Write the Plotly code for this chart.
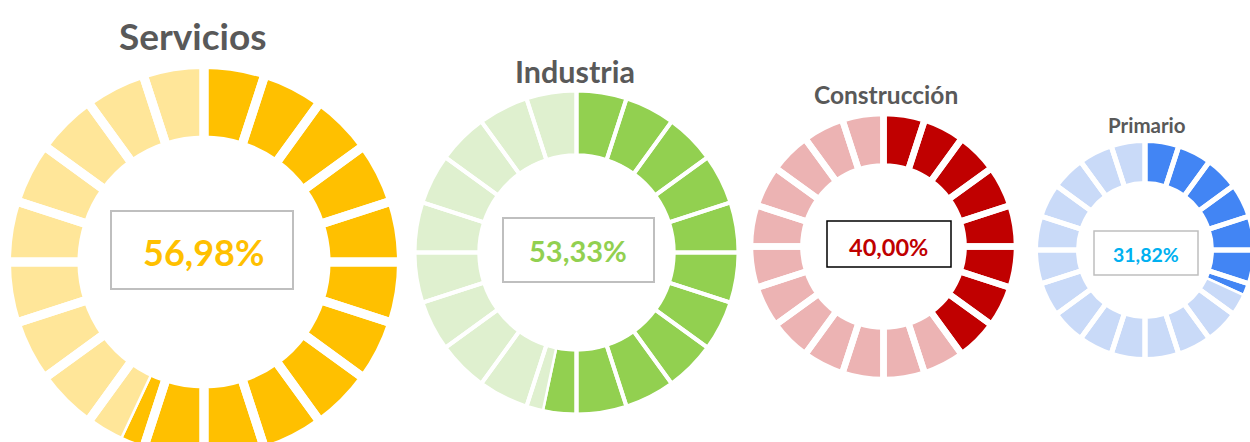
import plotly.graph_objects as go

# ---------------- data ----------------
sectors = ["Servicios", "Industria", "Construcción", "Primario"]
percentages = [56.98, 53.33, 40.00, 31.82]
n_segments = 20

# ---------------- styles ----------------
dark_colors = ["#FFC000", "#92D050", "#C00000", "#4285F4"]
light_colors = ["#FFE699", "#DFF0CF", "#ECB3B3", "#C9DAF8"]
value_colors = ["#FFC000", "#92D050", "#C00000", "#00B0F0"]
box_colors = ["#BFBFBF", "#BFBFBF", "#000000", "#BFBFBF"]
box_widths = [2, 2, 1.5, 1.5]

W, H = 1256, 460
# donut centre x, centre y, radius, hole, gap (px)
donuts = [
    (204, 262, 197.5, 0.618, 9),
    (576.5, 252.5, 162, 0.60, 4),
    (883.5, 246.5, 133.5, 0.60, 6.5),
    (1145, 250, 109.5, 0.607, 5),
]
titles_pos = [(192, 35, 37), (574.5, 71, 30.5), (885.5, 94, 24.5), (1147, 125, 20.5)]
value_pos = [(203, 252, 36), (578, 251, 29), (888.5, 247, 23.5), (1146, 254, 19.5)]
boxes = [(111, 211, 293, 289), (503, 218, 654, 282), (827, 221, 951, 267), (1094, 231, 1198, 275)]

FONT = "Lato"


def dom(cx, cy, R):
    return dict(x=[(cx - R) / W, (cx + R) / W], y=[(H - (cy + R)) / H, (H - (cy - R)) / H])


fig = go.Figure()

for i, (name, pct) in enumerate(zip(sectors, percentages)):
    cx, cy, R, hole, gap = donuts[i]
    filled = pct / 100 * n_segments
    vals, cols = [], []
    for k in range(n_segments):
        a, b = k, k + 1
        if b <= filled:
            vals.append(1); cols.append(dark_colors[i])
        elif a >= filled:
            vals.append(1); cols.append(light_colors[i])
        else:
            vals.append(filled - a); cols.append(dark_colors[i])
            vals.append(b - filled); cols.append(light_colors[i])
    d = dom(cx, cy, R)
    # coloured ring, split at the filled share
    fig.add_trace(go.Pie(
        values=vals, sort=False, direction="clockwise", rotation=0, hole=hole,
        marker=dict(colors=cols, line=dict(color="white", width=2.5)),
        textinfo="none", hoverinfo="skip", showlegend=False, domain=d,
    ))
    # segment gaps
    fig.add_trace(go.Pie(
        values=[1] * n_segments, sort=False, direction="clockwise", rotation=0, hole=hole,
        marker=dict(colors=["rgba(0,0,0,0)"] * n_segments, line=dict(color="white", width=gap)),
        textinfo="none", hoverinfo="skip", showlegend=False, domain=d,
    ))

annotations = []
shapes = []
for i, (name, pct) in enumerate(zip(sectors, percentages)):
    tx, ty, ts = titles_pos[i]
    annotations.append(dict(
        x=tx / W, y=1 - ty / H, xref="paper", yref="paper", xanchor="center", yanchor="middle",
        text=f"<b>{name}</b>", showarrow=False, font=dict(family=FONT, size=ts, color="#595959"),
    ))
    vx, vy, vs = value_pos[i]
    label = f"{pct:.2f}".replace(".", ",") + "%"
    annotations.append(dict(
        x=vx / W, y=1 - vy / H, xref="paper", yref="paper", xanchor="center", yanchor="middle",
        text=f"<b>{label}</b>", showarrow=False, font=dict(family=FONT, size=vs, color=value_colors[i]),
    ))
    x0, y0, x1, y1 = boxes[i]
    shapes.append(dict(
        type="rect", xref="paper", yref="paper", x0=x0 / W, x1=x1 / W, y0=1 - y1 / H, y1=1 - y0 / H,
        line=dict(color=box_colors[i], width=box_widths[i]), fillcolor="rgba(0,0,0,0)",
    ))

fig.update_layout(
    width=W, height=H, margin=dict(l=0, r=0, t=0, b=0),
    paper_bgcolor="white", plot_bgcolor="white",
    annotations=annotations, shapes=shapes, showlegend=False,
)

fig.write_html(
    "out.html",
    config={"displayModeBar": False},
    post_script="document.body.style.margin='0';document.body.style.overflow='hidden';"
                "document.documentElement.style.overflow='hidden';",
)
